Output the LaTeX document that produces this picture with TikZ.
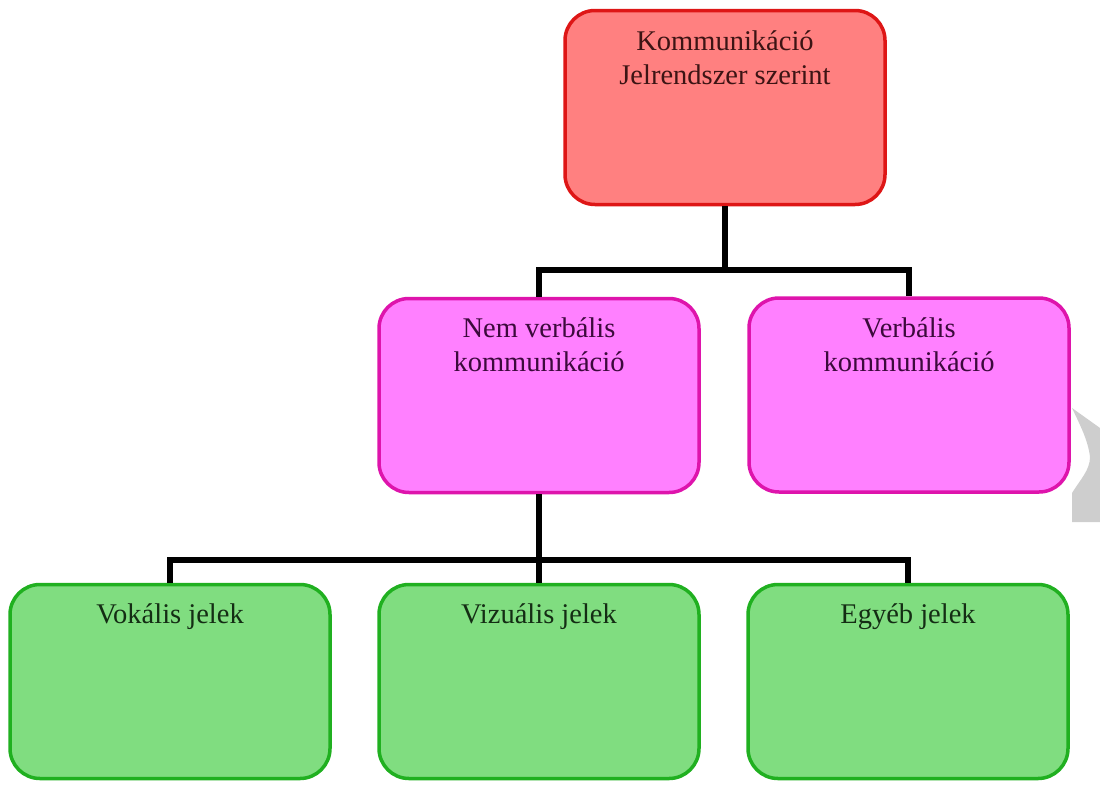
\documentclass[tikz,border=0pt]{standalone}
\usepackage{fontspec}
\setmainfont{Liberation Serif}
\begin{document}
\definecolor{redfill}{RGB}{255,128,128}
\definecolor{redline}{RGB}{222,22,22}
\definecolor{magfill}{RGB}{255,128,255}
\definecolor{magline}{RGB}{222,20,172}
\definecolor{grnfill}{RGB}{128,221,128}
\definecolor{grnline}{RGB}{32,176,32}
\definecolor{watermark}{RGB}{206,206,206}
\begin{tikzpicture}[x=1pt,y=-1pt,
  box/.style={draw, line width=3.5pt, rounded corners=30pt, minimum width=320pt, minimum height=194pt, inner sep=0pt},
  redbox/.style={box, fill=redfill, draw=redline},
  magbox/.style={box, fill=magfill, draw=magline},
  grnbox/.style={box, fill=grnfill, draw=grnline},
  lbl/.style={align=center, inner sep=0pt, font=\fontsize{28.5}{34}\selectfont},
  conn/.style={draw=black, line width=6pt, line join=miter}]
\useasboundingbox (0,0) rectangle (1100,790);

% faint mark at the right margin
\fill[watermark] (1072,408) -- (1100,428) -- (1100,522) -- (1072,522) -- (1072,493)
  .. controls (1080,480) and (1090,470) .. (1090,457)
  .. controls (1088,440) and (1080,425) .. cycle;

% boxes
\node[redbox] (root) at (725,107.5) {};
\node[magbox] (nonverbal) at (539,395.5) {};
\node[magbox] (verbal) at (909,395) {};
\node[grnbox] (vocal) at (170,681.5) {};
\node[grnbox] (visual) at (539,681.5) {};
\node[grnbox] (other) at (908,681.5) {};

% connectors
\coordinate (j1) at (725,270);
\coordinate (j2) at (539,560);
\draw[conn] (root.south) -- (j1);
\draw[conn] (nonverbal.north) |- (j1) -| (verbal.north);
\draw[conn] (nonverbal.south) -- (visual.north);
\draw[conn] (vocal.north) |- (j2) -| (other.north);

% labels
\node[lbl, text={rgb,255:red,60;green,20;blue,20}] (rootlbl) at (725,57.5) {Kommunikáció\\Jelrendszer szerint};
\node[lbl, text={rgb,255:red,60;green,10;blue,60}] (nonverballbl) at (539,344.5) {Nem verbális\\kommunikáció};
\node[lbl, text={rgb,255:red,60;green,10;blue,60}] (verballbl) at (909,344.5) {Verbális\\kommunikáció};
\node[lbl, text={rgb,255:red,20;green,45;blue,20}] (vocallbl) at (170,617) {Vokális jelek};
\node[lbl, text={rgb,255:red,20;green,45;blue,20}] (visuallbl) at (539,617) {Vizuális jelek};
\node[lbl, text={rgb,255:red,20;green,45;blue,20}] (otherlbl) at (908,617) {Egyéb jelek};
\end{tikzpicture}
\end{document}
